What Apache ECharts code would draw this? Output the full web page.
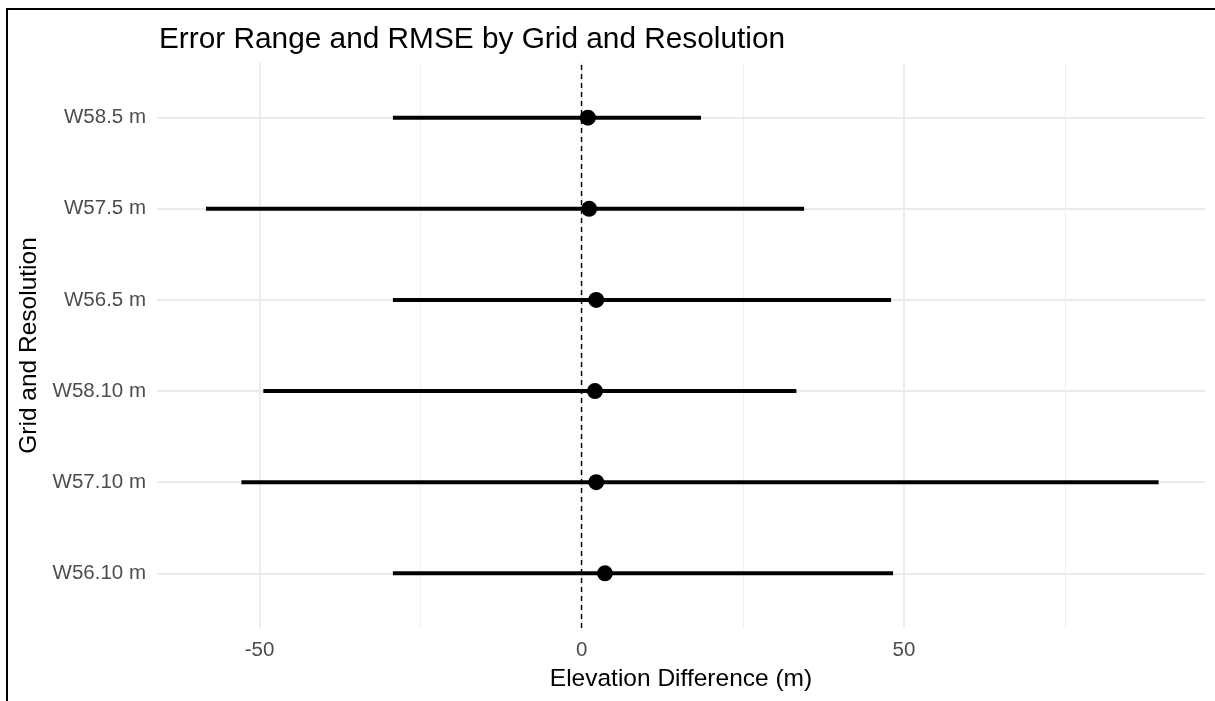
<!DOCTYPE html>
<html>
<head>
<meta charset="utf-8">
<script src="https://cdn.jsdelivr.net/npm/echarts@6/dist/echarts.min.js"></script>
<style>
  html, body { margin: 0; padding: 0; background: #fff; }
  #chart { width: 1215px; height: 701px; }
  /* frame seen on the left and top of the screenshot */
  #frame {
    position: absolute; left: 6px; top: 8px; width: 1209px; height: 693px;
    border-left: 2px solid #000; border-top: 2px solid #000;
    pointer-events: none; box-sizing: border-box;
  }
</style>
</head>
<body>
<div id="chart"></div>
<div id="frame"></div>
<script>
// categories, bottom to top (ggplot order)
const categories = ['W56.10 m', 'W57.10 m', 'W58.10 m', 'W56.5 m', 'W57.5 m', 'W58.5 m'];
const positions = [1, 2, 3, 4, 5, 6];
// error range (min / max difference) and RMSE point
const errMin = [-29.3, -52.8, -49.4, -29.3, -58.3, -29.3];
const errMax = [48.3, 89.5, 33.3, 48.0, 34.5, 18.5];
const rmse = [3.6, 2.25, 2.05, 2.25, 1.15, 0.95];

// axis ticks
const xMajor = [-50, 0, 50];
const xMinor = [-75, -25, 25, 75];
const xRange = [-65.9, 96.7];
const yRange = [0.4, 6.6];

const font = "'Liberation Sans', Arial, sans-serif";
const chart = echarts.init(document.getElementById('chart'));

const rangeData = positions.map((p, i) => [p, errMin[i], errMax[i]]);
const pointData = positions.map((p, i) => [rmse[i], p]);

const option = {
  animation: false,
  title: {
    text: 'Error Range and RMSE by Grid and Resolution',
    left: 154,
    top: 20,
    textStyle: { fontFamily: font, fontSize: 29.8, fontWeight: 'normal', color: '#000' }
  },
  grid: { left: 157, right: 10, top: 63, bottom: 73 },
  xAxis: {
    type: 'value',
    min: xRange[0],
    max: xRange[1],
    name: 'Elevation Difference (m)',
    nameLocation: 'middle',
    nameGap: 39,
    nameTextStyle: { fontFamily: font, fontSize: 24.5, color: '#000' },
    axisLine: { show: false },
    axisTick: { show: false },
    splitLine: { show: false },
    axisLabel: {
      customValues: xMajor,
      margin: 12,
      fontFamily: font, fontSize: 20.5, color: '#4d4d4d'
    }
  },
  yAxis: {
    type: 'value',
    min: yRange[0],
    max: yRange[1],
    name: 'Grid and Resolution',
    nameLocation: 'middle',
    nameRotate: 90,
    nameGap: 101,
    nameTextStyle: { fontFamily: font, fontSize: 24.5, color: '#000' },
    axisLine: { show: false },
    axisTick: { show: false },
    splitLine: { show: false },
    axisLabel: {
      customValues: positions,
      margin: 11,
      formatter: v => categories[Math.round(v) - 1],
      fontFamily: font, fontSize: 20.5, color: '#4d4d4d'
    }
  },
  series: [
    {
      // panel grid lines
      type: 'line',
      data: [],
      z: 0,
      silent: true,
      markLine: {
        z: 0,
        silent: true,
        symbol: 'none',
        label: { show: false },
        animation: false,
        data: [
          ...xMinor.map(v => ({ xAxis: v, lineStyle: { color: '#f0f0f0', width: 1.2, type: 'solid' } })),
          ...xMajor.map(v => ({ xAxis: v, lineStyle: { color: '#ebebeb', width: 1.8, type: 'solid' } })),
          ...positions.map(v => ({ yAxis: v, lineStyle: { color: '#ebebeb', width: 1.8, type: 'solid' } }))
        ]
      }
    },
    {
      // error range bars
      type: 'custom',
      z: 2,
      silent: true,
      data: rangeData,
      encode: { x: [1, 2], y: 0 },
      renderItem: (params, api) => {
        const y = api.value(0);
        const p1 = api.coord([api.value(1), y]);
        const p2 = api.coord([api.value(2), y]);
        return {
          type: 'rect',
          shape: { x: p1[0], y: p1[1] - 2, width: p2[0] - p1[0], height: 4 },
          style: { fill: '#000' }
        };
      }
    },
    {
      // RMSE points + zero line
      type: 'scatter',
      z: 3,
      data: pointData,
      symbol: 'circle',
      symbolSize: 16,
      itemStyle: { color: '#000', opacity: 1 },
      markLine: {
        z: 1,
        silent: true,
        symbol: 'none',
        label: { show: false },
        animation: false,
        data: [{ xAxis: 0 }],
        lineStyle: { color: '#000', width: 1.4, type: [5, 4] }
      }
    }
  ]
};

chart.setOption(option);
</script>
</body>
</html>
